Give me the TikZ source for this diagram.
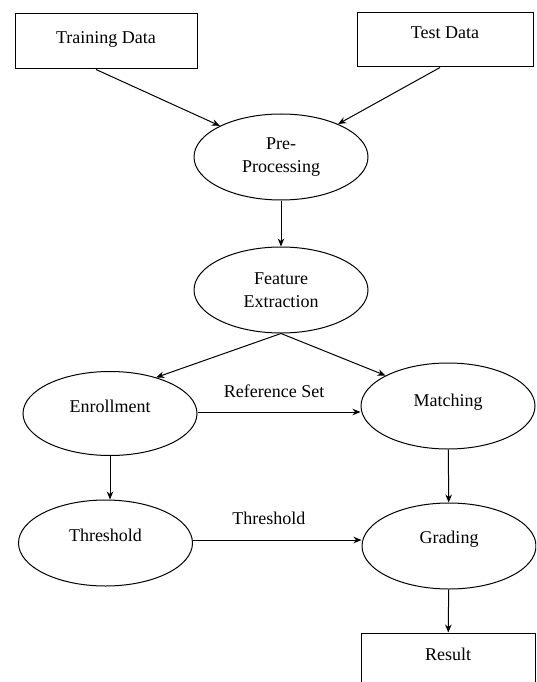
\documentclass[tikz,border=0pt]{standalone}
\usepackage{fontspec}
\setmainfont{Liberation Serif}
\usetikzlibrary{shapes.geometric,arrows.meta}

\begin{document}
\begin{tikzpicture}[x=1pt,y=-1pt,
	bx/.append style={draw,rectangle,line width=1pt,font=\fontsize{18}{23}\selectfont},
	el/.append style={draw,ellipse,line width=1pt,minimum width=174pt,minimum height=86pt,inner sep=0pt,font=\fontsize{18}{23}\selectfont,align=center},
	lift/.style={text height=13pt,text depth=#1},
	a/.append style={->,>={Stealth[length=8pt,width=6.5pt]},line width=1pt},
	lbl/.append style={font=\fontsize{18}{23}\selectfont,inner sep=0pt}]
\useasboundingbox (0,0) rectangle (536,682);
\clip (0,0) rectangle (536,682);
\node[bx,minimum width=182pt,minimum height=55pt,lift=9pt] (train) at (106,41.5) {Training Data};
\node[bx,minimum width=176pt,minimum height=54pt,lift=16pt] (test) at (445,40) {Test Data};
\node[el] (pre) at (281,157) {Pre-\\Processing};
\node[el] (feat) at (281,290) {Feature\\Extraction};
\node[el,minimum height=84pt,lift=15pt] (enr) at (110,413.5) {Enrollment};
\node[el,lift=12pt] (match) at (448,406) {Matching};
\node[el,lift=17pt] (thr) at (105.5,543) {Threshold};
\node[el,lift=18pt] (grad) at (449,546) {Grading};
\node[bx,minimum width=174pt,minimum height=67pt,lift=26pt] (res) at (448,666.5) {Result};
\draw[a] ([xshift=-10pt]train.south) -- (pre.153);
\draw[a] ([xshift=-5pt]test.south) -- (pre.30);
\draw[a] (pre) -- (feat);
\draw[a] (feat.south) -- (enr.38);
\draw[a] (feat.south) -- (match.154);
\draw[a] ([yshift=1.5pt]enr.east) -- node[lbl,above=14pt,pos=.47] {Reference Set} ([yshift=1.5pt]enr.east -| match.west);
\draw[a] (enr.south) -- (enr.south |- thr.north);
\draw[a] (match) -- (grad);
\draw[a] ([yshift=3pt]thr.east) -- node[lbl,above=15pt,pos=.45] {Threshold} ([yshift=3pt]thr.east -| grad.west);
\draw[a] (grad) -- (res);
\end{tikzpicture}
\end{document}
